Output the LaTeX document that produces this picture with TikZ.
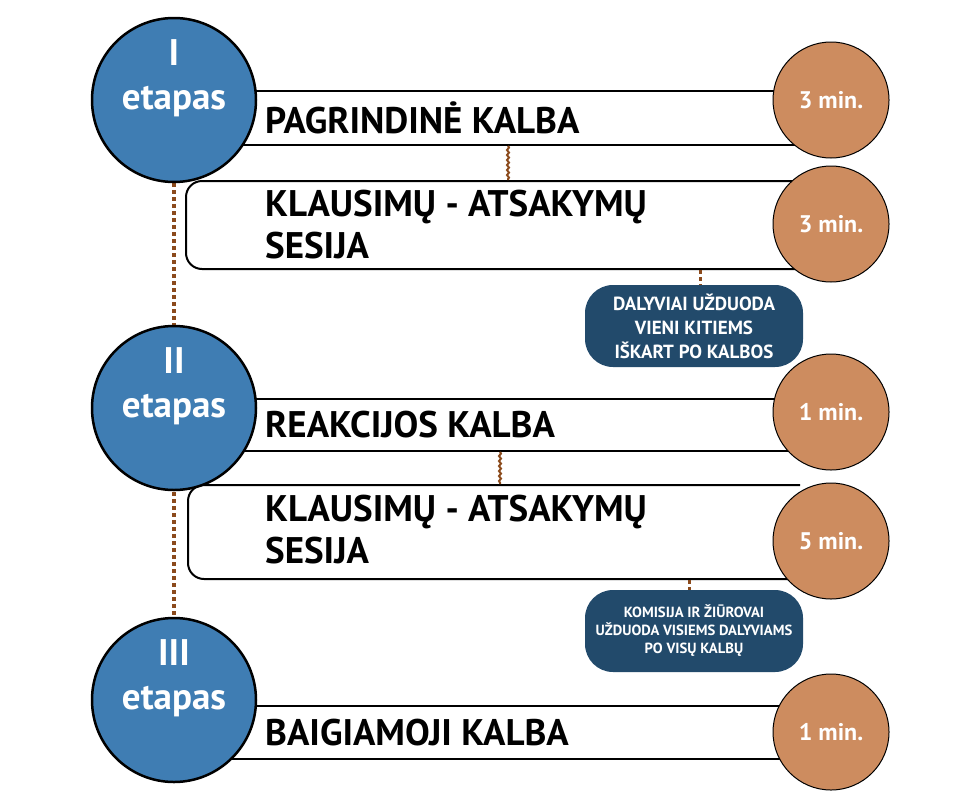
\documentclass[tikz,border=0pt]{standalone}
\usepackage{fontspec}
\setmainfont{PT Sans}
\usetikzlibrary{decorations.pathmorphing}
\definecolor{bluec}{HTML}{3F7DB3}
\definecolor{orangec}{HTML}{CD8C5F}
\definecolor{darkc}{HTML}{224A6B}
\definecolor{brownc}{HTML}{8B4A1C}
\begin{document}
\begin{tikzpicture}[x=1pt,y=-1pt,
  stage/.style={circle,draw=black,line width=2.5pt,fill=bluec,minimum size=164pt,inner sep=0pt},
  stagetxt/.style={text=white,font=\bfseries\fontsize{37}{44}\selectfont,align=center,inner sep=0pt},
  timec/.style={circle,draw=black,line width=1pt,fill=orangec,minimum size=116pt,inner sep=0pt,text=white,font=\bfseries\fontsize{24}{28}\selectfont},
  note/.style={rounded corners=28pt,fill=darkc,text=white,align=center,inner sep=0pt,minimum width=218pt,minimum height=82pt},
  lbl/.style={anchor=west,font=\bfseries\fontsize{37}{42}\selectfont,align=left,inner sep=0pt},
  bar/.style={line width=2pt},
  dotl/.style={draw=brownc,line width=4pt,dash pattern=on 4pt off 3pt},
  wav/.style={draw=brownc,line width=2pt,decorate,decoration={snake,amplitude=1pt,segment length=5pt}}
]
\useasboundingbox (0,0) rectangle (960,798);
% bars
\draw[bar] (174,91) -- (800,91) (174,145) -- (800,145);
\draw[bar,rounded corners=16pt] (800,181) -- (186,181) -- (186,269) -- (800,269);
\draw[bar] (174,399) -- (800,399) (174,451) -- (800,451);
\draw[bar,rounded corners=16pt] (800,485) -- (188,485) -- (188,579) -- (800,579);
\draw[bar] (174,706) -- (800,706) (174,759) -- (800,759);
% labels
\node[lbl] (t1) at (265,118) {PAGRINDINĖ KALBA};
\node[lbl] (t2) at (265,225) {KLAUSIMŲ - ATSAKYMŲ\\SESIJA};
\node[lbl] (t3) at (265,425) {REAKCIJOS KALBA};
\node[lbl] (t4) at (265,530) {KLAUSIMŲ - ATSAKYMŲ\\SESIJA};
\node[lbl] (t5) at (265,733) {BAIGIAMOJI KALBA};
% connectors
\coordinate (a1) at (174,183); \coordinate (a2) at (174,325);
\coordinate (b1) at (174,492); \coordinate (b2) at (174,618);
\draw[dotl] (a1) -- (a2);
\draw[dotl] (b1) -- (b2);
\coordinate (w1) at (508,146); \coordinate (w2) at (508,180);
\coordinate (w3) at (700,270); \coordinate (w4) at (700,286);
\coordinate (w5) at (500,452); \coordinate (w6) at (500,484);
\coordinate (w7) at (689,580); \coordinate (w8) at (689,591);
\draw[wav] (w1) -- (w2);
\draw[wav] (w5) -- (w6);
\draw[dotl,line width=3pt] (w3) -- (w4);
\draw[dotl,line width=3pt] (w7) -- (w8);
% stages
\node[stage] (s1) at (174,100) {};
\node[stage] (s2) at (174,408) {};
\node[stage] (s3) at (174,700) {};
\node[stagetxt] (s1t) at (174,78) {I\\etapas};
\node[stagetxt] (s2t) at (174,386) {II\\etapas};
\node[stagetxt] (s3t) at (174,678) {III\\etapas};
% times
\node[timec] (m1) at (831,100) {3 min.};
\node[timec] (m2) at (831,224) {3 min.};
\node[timec] (m3) at (831,412) {1 min.};
\node[timec] (m4) at (831,541) {5 min.};
\node[timec] (m5) at (831,732) {1 min.};
% notes
\node[note,font=\bfseries\fontsize{19}{24}\selectfont] (n1) at (694,326) {DALYVIAI UŽDUODA\\VIENI KITIEMS\\IŠKART PO KALBOS};
\node[note,font=\bfseries\fontsize{14.7}{18}\selectfont] (n2) at (694,631) {KOMISIJA IR ŽIŪROVAI\\UŽDUODA VISIEMS DALYVIAMS\\PO VISŲ KALBŲ};
\end{tikzpicture}
\end{document}
